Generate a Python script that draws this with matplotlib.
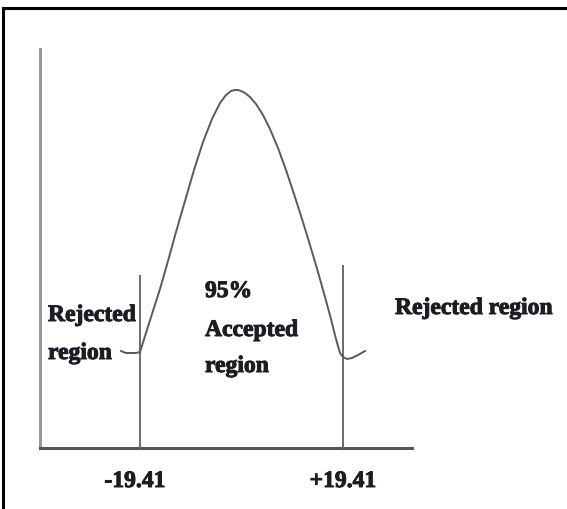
import numpy as np
import matplotlib.pyplot as plt
import matplotlib.patheffects as pe

# sketch of the acceptance / rejection regions (coordinates in picture units)
curve_x = [121, 126, 131, 136, 140, 146, 152, 160, 168, 176, 185, 194, 203, 212, 220, 226, 231, 235, 238, 241,
           245, 250, 256, 263, 270, 278, 286, 294, 302, 310, 318, 325, 331, 336, 340, 343, 347, 352, 358, 365]
curve_y = [352, 354, 354, 354, 353, 334, 315, 290, 262, 233, 202, 171, 143, 120, 104, 96, 92, 91, 91, 92,
           94, 98, 105, 116, 130, 149, 171, 195, 220, 246, 273, 298, 320, 340, 354, 358, 360, 359, 356, 352]

crit_x = [140, 343]
crit_top = [277, 267]
crit_labels = ['-19.41', '+19.41']

axis_left, axis_right = 40, 412
axis_top, axis_bottom = 50, 449

fig = plt.figure(figsize=(5.67, 5.10), dpi=100)
ax = fig.add_axes([0, 0, 1, 1])
ax.set_xlim(0, 567)
ax.set_ylim(510, 0)
ax.axis('off')

# frame (only top and left edges are visible)
ax.plot([3, 3], [510, 9], color='black', lw=2.2, solid_capstyle='projecting')
ax.plot([3, 567], [9, 9], color='black', lw=2.2, solid_capstyle='projecting')

# L-shaped axes
ax.plot([axis_left, axis_left], [axis_top, axis_bottom], color='#9a9a9a', lw=2.2)
ax.plot([axis_left, axis_right], [axis_bottom, axis_bottom], color='#555555', lw=2.2)

# critical value lines
for x, top in zip(crit_x, crit_top):
    ax.plot([x, x], [top, axis_bottom], color='#6a6a6a', lw=1.4)

# bell curve
ax.plot(curve_x, curve_y, color='#5a5a5a', lw=1.4)

bold = [pe.withStroke(linewidth=0.7, foreground='#1c1c24')]
txt = dict(family='Liberation Serif', fontweight='bold', fontsize=17, color='#1c1c24',
           va='baseline', path_effects=bold)
ax.text(48, 322, 'Rejected', ha='left', **txt)
ax.text(48, 360, 'region', ha='left', **txt)
ax.text(205, 298, '95%', ha='left', **txt)
ax.text(205, 337, 'Accepted', ha='left', **txt)
ax.text(205, 373, 'region', ha='left', **txt)
ax.text(395, 315, 'Rejected region', ha='left', **txt)

for x, lab in zip(crit_x, crit_labels):
    ax.text(x - 5 if lab.startswith('-') else x, 488, lab, ha='center', **txt)

fig.savefig('out.png', dpi=100)
